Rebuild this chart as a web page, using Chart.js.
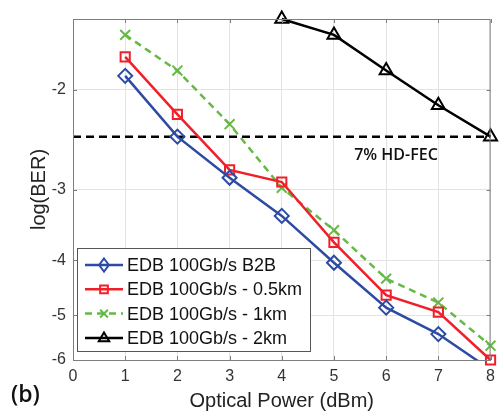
<!DOCTYPE html>
<html>
<head>
<meta charset="utf-8">
<script src="https://cdn.jsdelivr.net/npm/chart.js@4.4.1/dist/chart.umd.min.js"></script>
<style>
html, body { margin: 0; padding: 0; background: #fff; }
</style>
</head>
<body>
<canvas id="c" width="502" height="414"></canvas>
<script>
// values (log10 of BER)
const power = [1, 2, 3, 4, 5, 6, 7, 8];
const b2b = [-1.89, -2.42, -2.86, -3.34, -4.04, -4.85, -5.40, -6.24];
const km05 = [-1.75, -2.21, -2.77, -2.91, -3.72, -4.61, -4.94, -6.00];
const km1 = [-1.60, -1.85, -2.30, -2.98, -3.54, -4.31, -4.75, -5.66];
const km2Power = [4, 5, 6, 7, 8];
const km2 = [-1.50, -1.60, -1.85, -2.13, -2.42];
const fecLevel = -2.42;
const fecLabel = "7% HD-FEC";
const yTicks = [-2, -3, -4, -5, -6];
const xTicks = [0, 1, 2, 3, 4, 5, 6, 7, 8];
const yTop = -1.5, yBottom = -6;
const seriesNames = ["EDB 100Gb/s B2B", "EDB 100Gb/s - 0.5km", "EDB 100Gb/s - 1km", "EDB 100Gb/s - 2km"];

// the y axis is -log(-log BER): plot -value on a reversed log scale
function pts(xs, ys) {
    return xs.map((x, i) => ({ x: x, y: -ys[i] }));
}

const BLUE = "#2d4ba3", RED = "#f0202a", GREEN = "#66b944", BLACK = "#000000";
const AXIS = "#7d7d7d", GRID = "#e3e3e3";

function drawMarker(ctx, style, x, y, r) {
    ctx.beginPath();
    if (style === "rectRot") {
        ctx.moveTo(x, y - r); ctx.lineTo(x + r * 0.75, y); ctx.lineTo(x, y + r); ctx.lineTo(x - r * 0.75, y); ctx.closePath();
    } else if (style === "rect") {
        ctx.rect(x - r * 0.7, y - r * 0.7, r * 1.4, r * 1.4);
    } else if (style === "crossRot") {
        let s = r * 0.7;
        ctx.moveTo(x - s, y - s); ctx.lineTo(x + s, y + s);
        ctx.moveTo(x + s, y - s); ctx.lineTo(x - s, y + s);
    } else if (style === "triangle") {
        ctx.moveTo(x, y - r); ctx.lineTo(x + r * 0.95, y + r * 0.6); ctx.lineTo(x - r * 0.95, y + r * 0.6); ctx.closePath();
    }
    ctx.stroke();
}

const framePlugin = {
    id: "frame",
    afterDatasetsDraw(chart) {
        const ctx = chart.ctx;
        const a = chart.chartArea;
        const xs = chart.scales.x, ys = chart.scales.y;
        ctx.save();
        // box and inward ticks
        ctx.strokeStyle = AXIS;
        ctx.lineWidth = 1;
        ctx.strokeRect(a.left + 0.5, a.top + 0.5, a.right - a.left - 1, a.bottom - a.top);
        ctx.beginPath();
        xTicks.forEach(v => {
            let px = Math.round(xs.getPixelForValue(v)) + 0.5;
            ctx.moveTo(px, a.bottom); ctx.lineTo(px, a.bottom - 4);
            ctx.moveTo(px, a.top); ctx.lineTo(px, a.top + 4);
        });
        yTicks.forEach(v => {
            let py = Math.round(ys.getPixelForValue(-v)) + 0.5;
            ctx.moveTo(a.left, py); ctx.lineTo(a.left + 4, py);
            ctx.moveTo(a.right, py); ctx.lineTo(a.right - 4, py);
        });
        ctx.stroke();

        // FEC label
        ctx.fillStyle = "#111";
        ctx.font = "600 16px 'Open Sans'";
        ctx.textAlign = "center";
        ctx.textBaseline = "middle";
        ctx.fillText(fecLabel, 396, ys.getPixelForValue(-fecLevel) + 19);

        // panel label
        ctx.font = "600 23px 'Open Sans'";
        ctx.textAlign = "left";
        ctx.fillText("(b)", 11, 395);

        // legend
        const lx = 77, ly = 248, lw = 233, lh = 103;
        ctx.fillStyle = "#fff";
        ctx.fillRect(lx, ly, lw, lh);
        ctx.strokeStyle = "#555";
        ctx.lineWidth = 1;
        ctx.strokeRect(lx + 0.5, ly + 0.5, lw, lh);
        chart.data.datasets.slice(0, 4).forEach((ds, i) => {
            let y = 265 + i * 24.3;
            ctx.strokeStyle = ds.borderColor;
            ctx.lineWidth = 2.5;
            ctx.setLineDash(ds.borderDash || []);
            ctx.beginPath();
            ctx.moveTo(85, y); ctx.lineTo(123, y);
            ctx.stroke();
            ctx.setLineDash([]);
            ctx.lineWidth = 2;
            drawMarker(ctx, ds.pointStyle, 104, y, ds.pointStyle === "rectRot" ? 6.5 : 5.5);
            ctx.fillStyle = "#111";
            ctx.font = "18px 'Liberation Sans'";
            ctx.textAlign = "left";
            ctx.textBaseline = "middle";
            ctx.fillText(ds.label, 127, y + 1);
        });
        ctx.restore();
    }
};

function series(label, xs, ys, color, style, radius, dash) {
    return {
        label: label,
        data: pts(xs, ys),
        borderColor: color,
        backgroundColor: "rgba(0,0,0,0)",
        borderWidth: 2.5,
        borderDash: dash || [],
        pointStyle: style,
        pointRadius: radius,
        pointBorderColor: color,
        pointBorderWidth: 2,
        pointBackgroundColor: "rgba(0,0,0,0)",
        tension: 0,
        clip: 10
    };
}

const blue = series(seriesNames[0], power, b2b, BLUE, "rectRot", power.map((p, i) => i === power.length - 1 ? 0 : 7));
blue.clip = { left: 10, top: 10, right: 10, bottom: 0 };

new Chart(document.getElementById("c"), {
    type: "line",
    data: {
        datasets: [
            blue,
            series(seriesNames[1], power, km05, RED, "rect", 6.5),
            series(seriesNames[2], power, km1, GREEN, "crossRot", 7, [7, 5]),
            series(seriesNames[3], km2Power, km2, BLACK, "triangle", 7.5),
            {
                label: fecLabel,
                data: pts([0, 8], [fecLevel, fecLevel]),
                borderColor: BLACK,
                borderWidth: 2.5,
                borderDash: [8, 5],
                pointRadius: 0,
                order: 10
            }
        ]
    },
    options: {
        responsive: false,
        animation: false,
        devicePixelRatio: 1,
        layout: { padding: { top: 19, right: 10, left: 0, bottom: 0 } },
        plugins: { legend: { display: false }, tooltip: { enabled: false } },
        scales: {
            x: {
                type: "linear",
                min: 0,
                max: 8,
                afterFit(scale) { scale.height = 54; },
                afterBuildTicks(scale) { scale.ticks = xTicks.map(v => ({ value: v })); },
                grid: { color: GRID, drawTicks: false },
                border: { color: AXIS },
                ticks: { color: "#333", padding: 7, font: { family: "Liberation Sans", size: 16 } },
                title: {
                    display: true,
                    text: "Optical Power (dBm)",
                    color: "#222",
                    padding: { top: 0, bottom: 1 },
                    font: { family: "Liberation Sans", size: 20 }
                }
            },
            y: {
                type: "logarithmic",
                reverse: true,
                min: -yTop,
                max: -yBottom,
                afterFit(scale) { scale.width = 73; },
                afterBuildTicks(scale) { scale.ticks = yTicks.map(v => ({ value: -v })); },
                grid: { color: GRID, drawTicks: false },
                border: { color: AXIS },
                ticks: {
                    color: "#333",
                    padding: 7,
                    font: { family: "Liberation Sans", size: 16 },
                    callback: v => String(-v)
                },
                title: {
                    display: true,
                    text: "log(BER)",
                    color: "#222",
                    padding: { top: 27, bottom: 0 },
                    font: { family: "Liberation Sans", size: 20 }
                }
            }
        }
    },
    plugins: [framePlugin]
});
</script>
</body>
</html>
